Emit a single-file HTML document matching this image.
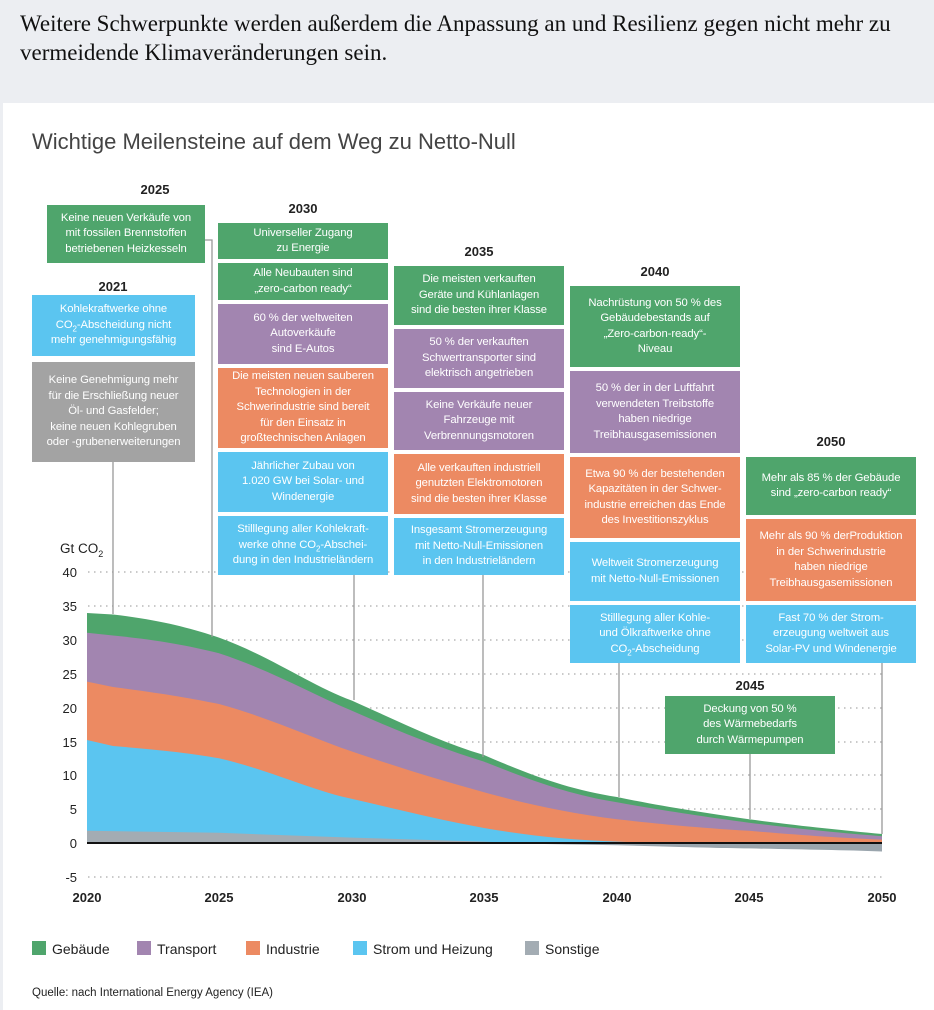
<!DOCTYPE html>
<html><head><meta charset="utf-8"><style>
body{margin:0;width:934px;height:1010px;background:#eceef2;position:relative;overflow:hidden;font-family:"Liberation Sans",sans-serif}
.hd{position:absolute;left:20px;top:9px;font-family:"Liberation Serif",serif;font-size:23px;line-height:29px;color:#111}
.panel{position:absolute;left:3px;top:103px;width:931px;height:907px;background:#fff}
.b{position:absolute;display:flex;align-items:center;justify-content:center;text-align:center;color:#fff;font-size:11.3px;line-height:15.5px;letter-spacing:-0.1px}
.b sub{font-size:8px;line-height:0}
.g{background:#4fa56c}.bl{background:#5bc5f0}.p{background:#a285b0}.o{background:#ec8a62}.gr{background:#a3a3a3}
.yr{position:absolute;font-weight:bold;font-size:13px;color:#222;width:170px;text-align:center}
svg{position:absolute;left:0;top:0}
</style></head><body>
<div class="hd">Weitere Schwerpunkte werden außerdem die Anpassung an und Resilienz gegen nicht mehr zu<br>vermeidende Klimaveränderungen sein.</div>
<div class="panel"></div>
<svg width="934" height="1010">
<text x="32" y="149" font-size="22" fill="#444" font-family="Liberation Sans,sans-serif">Wichtige Meilensteine auf dem Weg zu Netto-Null</text>
<g stroke="#aaa" stroke-width="1.3" stroke-dasharray="1.5 4.5">
<line x1="88" y1="572" x2="882" y2="572"/><line x1="88" y1="606" x2="882" y2="606"/><line x1="88" y1="640" x2="882" y2="640"/><line x1="88" y1="674" x2="882" y2="674"/><line x1="88" y1="708" x2="882" y2="708"/><line x1="88" y1="742" x2="882" y2="742"/><line x1="88" y1="775" x2="882" y2="775"/><line x1="88" y1="809" x2="882" y2="809"/><line x1="88" y1="877" x2="882" y2="877"/>
</g>
<g font-size="13" fill="#222" text-anchor="end" font-family="Liberation Sans,sans-serif">
<text x="77" y="577">40</text><text x="77" y="611">35</text><text x="77" y="645">30</text><text x="77" y="679">25</text><text x="77" y="713">20</text><text x="77" y="747">15</text><text x="77" y="780">10</text><text x="77" y="814">5</text><text x="77" y="848">0</text><text x="77" y="882">-5</text>
</g>
<text x="60" y="553" font-size="13.5" fill="#222">Gt CO<tspan font-size="9" dy="4">2</tspan></text>
<path fill="#4fa56c" d="M87,613 L113,614.5 C160,620 190,628 219,637.6 C270,656 310,685 352,700.6 C400,722 440,742 484,755 C530,775 570,790 617,797 C660,806 700,812 749,819.3 C800,826 840,830 882,834 L882,843 L87,843Z"/>
<path fill="#a285b0" d="M87,632.8 L113,635.5 C160,640 190,646 219,653.2 C270,670 310,693 352,710.8 C400,732 440,748 484,761.6 C530,780 570,795 617,802.3 C660,810 700,816 749,822.7 C800,829 840,833 882,836.2 L882,843 L87,843Z"/>
<path fill="#ec8a62" d="M87,681.6 L113,687 C160,693 190,698 219,704 C270,718 310,737 352,751.5 C400,768 440,780 484,792.2 C530,805 570,813 617,819.3 C660,824 700,828 749,830.8 C800,835 840,838 882,839.6 L882,843 L87,843Z"/>
<path fill="#5bc5f0" d="M87,740 L113,746 C160,750 190,753 219,758.3 C270,770 310,790 352,798.9 C400,810 440,820 484,828 C530,836 570,840 617,841.6 L650,843 L87,843Z"/>
<path fill="#a3acb3" d="M87,830.8 L219,832.8 L352,837.6 L484,841.6 L520,843 L87,843Z"/>
<path fill="#9aa5ad" d="M484,843 L617,845.2 C680,847 720,848 749,848.4 C800,849.5 840,850 882,851.5 L882,843Z"/>
<line x1="87" y1="843" x2="882" y2="843" stroke="#111" stroke-width="2"/>
<g stroke="#999" stroke-width="1.3" fill="none">
<line x1="113" y1="462" x2="113" y2="614"/>
<polyline points="205,240 212,240 212,637"/>
<line x1="354" y1="575" x2="354" y2="700"/>
<line x1="483" y1="575" x2="483" y2="757"/>
<line x1="619" y1="663" x2="619" y2="797"/>
<line x1="750" y1="754" x2="750" y2="819"/>
<line x1="882" y1="663" x2="882" y2="834"/>
</g>
<g font-size="13" font-weight="bold" fill="#222" text-anchor="middle">
<text x="87" y="902">2020</text><text x="219" y="902">2025</text><text x="352" y="902">2030</text><text x="484" y="902">2035</text><text x="617" y="902">2040</text><text x="749" y="902">2045</text><text x="882" y="902">2050</text>
</g>
<g font-size="14" fill="#222">
<rect x="32" y="941" width="14" height="14" fill="#4fa56c"/><text x="52" y="954">Gebäude</text>
<rect x="137" y="941" width="14" height="14" fill="#a285b0"/><text x="157" y="954">Transport</text>
<rect x="246" y="941" width="14" height="14" fill="#ec8a62"/><text x="266" y="954">Industrie</text>
<rect x="353" y="941" width="14" height="14" fill="#5bc5f0"/><text x="373" y="954">Strom und Heizung</text>
<rect x="525" y="941" width="14" height="14" fill="#a3acb3"/><text x="545" y="954">Sonstige</text>
</g>
<text x="32" y="996" font-size="11.5" fill="#222">Quelle: nach International Energy Agency (IEA)</text>
</svg>

<div class="yr" style="left:70px;top:182px">2025</div>
<div class="b g" style="left:47px;top:205px;width:158px;height:58px"><div>Keine neuen Verkäufe von<br>mit fossilen Brennstoffen<br>betriebenen Heizkesseln</div></div>
<div class="yr" style="left:28px;top:279px">2021</div>
<div class="b bl" style="left:32px;top:295px;width:163px;height:61px"><div>Kohlekraftwerke ohne<br>CO<sub>2</sub>-Abscheidung nicht<br>mehr genehmigungsfähig</div></div>
<div class="b gr" style="left:32px;top:362px;width:163px;height:100px"><div>Keine Genehmigung mehr<br>für die Erschließung neuer<br>Öl- und Gasfelder;<br>keine neuen Kohlegruben<br>oder -grubenerweiterungen</div></div>

<div class="yr" style="left:218px;top:201px">2030</div>
<div class="b g" style="left:218px;top:223px;width:170px;height:36px"><div>Universeller Zugang<br>zu Energie</div></div>
<div class="b g" style="left:218px;top:263px;width:170px;height:37px"><div>Alle Neubauten sind<br>„zero-carbon ready“</div></div>
<div class="b p" style="left:218px;top:304px;width:170px;height:60px"><div>60 % der weltweiten<br>Autoverkäufe<br>sind E-Autos</div></div>
<div class="b o" style="left:218px;top:368px;width:170px;height:80px"><div>Die meisten neuen sauberen<br>Technologien in der<br>Schwerindustrie sind bereit<br>für den Einsatz in<br>großtechnischen Anlagen</div></div>
<div class="b bl" style="left:218px;top:452px;width:170px;height:60px"><div>Jährlicher Zubau von<br>1.020 GW bei Solar- und<br>Windenergie</div></div>
<div class="b bl" style="left:218px;top:516px;width:170px;height:59px"><div>Stilllegung aller Kohlekraft-<br>werke ohne CO<sub>2</sub>-Abschei-<br>dung in den Industrieländern</div></div>

<div class="yr" style="left:394px;top:244px">2035</div>
<div class="b g" style="left:394px;top:266px;width:170px;height:59px"><div>Die meisten verkauften<br>Geräte und Kühlanlagen<br>sind die besten ihrer Klasse</div></div>
<div class="b p" style="left:394px;top:329px;width:170px;height:59px"><div>50 % der verkauften<br>Schwertransporter sind<br>elektrisch angetrieben</div></div>
<div class="b p" style="left:394px;top:392px;width:170px;height:58px"><div>Keine Verkäufe neuer<br>Fahrzeuge mit<br>Verbrennungsmotoren</div></div>
<div class="b o" style="left:394px;top:454px;width:170px;height:60px"><div>Alle verkauften industriell<br>genutzten Elektromotoren<br>sind die besten ihrer Klasse</div></div>
<div class="b bl" style="left:394px;top:518px;width:170px;height:57px"><div>Insgesamt Stromerzeugung<br>mit Netto-Null-Emissionen<br>in den Industrieländern</div></div>

<div class="yr" style="left:570px;top:264px">2040</div>
<div class="b g" style="left:570px;top:286px;width:170px;height:81px"><div>Nachrüstung von 50 % des<br>Gebäudebestands auf<br>„Zero-carbon-ready“-<br>Niveau</div></div>
<div class="b p" style="left:570px;top:371px;width:170px;height:82px"><div>50 % der in der Luftfahrt<br>verwendeten Treibstoffe<br>haben niedrige<br>Treibhausgasemissionen</div></div>
<div class="b o" style="left:570px;top:457px;width:170px;height:81px"><div>Etwa 90 % der bestehenden<br>Kapazitäten in der Schwer-<br>industrie erreichen das Ende<br>des Investitionszyklus</div></div>
<div class="b bl" style="left:570px;top:542px;width:170px;height:59px"><div>Weltweit Stromerzeugung<br>mit Netto-Null-Emissionen</div></div>
<div class="b bl" style="left:570px;top:605px;width:170px;height:58px"><div>Stilllegung aller Kohle-<br>und Ölkraftwerke ohne<br>CO<sub>2</sub>-Abscheidung</div></div>

<div class="yr" style="left:746px;top:434px">2050</div>
<div class="b g" style="left:746px;top:457px;width:170px;height:58px"><div>Mehr als 85 % der Gebäude<br>sind „zero-carbon ready“</div></div>
<div class="b o" style="left:746px;top:519px;width:170px;height:82px"><div>Mehr als 90 % derProduktion<br>in der Schwerindustrie<br>haben niedrige<br>Treibhausgasemissionen</div></div>
<div class="b bl" style="left:746px;top:605px;width:170px;height:58px"><div>Fast 70 % der Strom-<br>erzeugung weltweit aus<br>Solar-PV und Windenergie</div></div>

<div class="yr" style="left:665px;top:678px">2045</div>
<div class="b g" style="left:665px;top:696px;width:170px;height:58px"><div>Deckung von 50 %<br>des Wärmebedarfs<br>durch Wärmepumpen</div></div>
</body></html>
